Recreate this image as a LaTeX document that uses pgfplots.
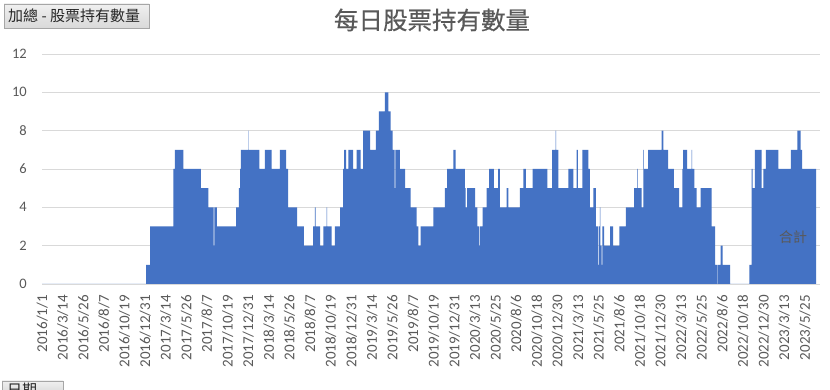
\documentclass[border=0pt]{standalone}
\usepackage{pgfplots}
\pgfplotsset{compat=1.18}
\usepackage{fontspec}
\setmainfont{Carlito}
\newfontfamily\cjk{Noto Sans CJK TC}
\newfontfamily\cjktitle[FakeBold=0.5]{Noto Sans CJK TC}
\definecolor{barblue}{HTML}{4472C4}
\definecolor{gridgray}{HTML}{D9D9D9}
\definecolor{labelgray}{HTML}{595959}
\definecolor{btnborder}{HTML}{A6A6A6}
\newcommand\xlabfont{\fontsize{15}{15}\selectfont}
\newcommand\ylabfont{\fontsize{14.5}{14.5}\selectfont}
\begin{document}
\begin{tikzpicture}
\path[use as bounding box] (0,0) rectangle (830pt,390pt);
\clip (0,0) rectangle (830pt,390pt);
\fill[white] (0,0) rectangle (830pt,390pt);
% top-left field button
\draw[btnborder, top color=gray!12, bottom color=gray!30] (4pt,362pt) rectangle (149pt,386pt);
\node[anchor=west, inner sep=0pt, text=black!85] at (8pt,374pt) {\cjk\fontsize{15}{15}\selectfont 加總 - 股票持有數量};
% title
\node[inner sep=0pt, text=labelgray] at (432pt,370pt) {\cjktitle\fontsize{24.5}{24.5}\selectfont 每日股票持有數量};
\begin{axis}[
  at={(42pt,106pt)}, anchor=south west,
  width=778pt, height=230pt, scale only axis,
  xmin=-0.5, xmax=2754.5, ymin=0, ymax=12,
  /pgf/number format/assume math mode=true,
  ytick={0,2,...,12},
  xtick={0,73,...,2701},
  xticklabels={2016/1/1,2016/3/14,2016/5/26,2016/8/7,2016/10/19,2016/12/31,2017/3/14,2017/5/26,2017/8/7,2017/10/19,2017/12/31,2018/3/14,2018/5/26,2018/8/7,2018/10/19,2018/12/31,2019/3/14,2019/5/26,2019/8/7,2019/10/19,2019/12/31,2020/3/13,2020/5/25,2020/8/6,2020/10/18,2020/12/30,2021/3/13,2021/5/25,2021/8/6,2021/10/18,2021/12/30,2022/3/13,2022/5/25,2022/8/6,2022/10/18,2022/12/30,2023/3/13,2023/5/25},
  axis x line*=bottom, axis y line*=left,
  x axis line style={draw=gridgray, line width=0.75pt},
  y axis line style={draw=none},
  major tick length=0pt,
  ymajorgrids, major grid style={draw=gridgray, line width=0.75pt},
  xticklabel style={rotate=90, anchor=east, inner sep=0pt, font=\xlabfont, text=labelgray},
  yticklabel style={anchor=east, inner sep=0pt, font=\ylabfont, text=labelgray},
  xticklabel shift=11pt,
  yticklabel shift=15pt,
  clip=true,
]
\addplot[const plot, fill=barblue, draw=none] table[x=d, y=v] {
d v
0 0
368 1
382 3
465 6
470 7
500 6
562 5
589 4
607 2
610 4
619 3
687 4
697 5
701 6
704 7
730 8
731 7
769 6
789 7
813 6
842 7
864 6
871 4
903 3
927 2
960 3
966 4
968 3
984 2
996 3
1007 4
1009 3
1025 2
1037 3
1055 4
1066 6
1069 7
1076 6
1084 7
1101 6
1114 7
1128 6
1137 8
1161 7
1182 8
1192 9
1214 10
1226 9
1234 8
1241 7
1248 5
1251 7
1267 6
1285 5
1305 4
1326 3
1332 2
1340 3
1385 4
1426 5
1434 6
1456 7
1464 6
1497 5
1500 4
1505 5
1533 4
1541 3
1548 2
1551 3
1560 4
1574 5
1583 6
1600 5
1615 6
1621 4
1645 5
1651 4
1692 5
1704 6
1713 5
1737 6
1789 5
1806 7
1818 8
1820 7
1828 5
1863 6
1881 5
1893 7
1897 5
1913 7
1934 6
1940 4
1952 5
1961 3
1969 1
1971 3
1975 4
1977 2
1981 1
1984 3
1990 2
2011 3
2022 2
2044 3
2067 4
2096 5
2107 6
2109 5
2123 4
2129 7
2131 6
2146 7
2194 8
2200 7
2217 6
2237 5
2256 4
2267 6
2270 7
2284 6
2300 7
2302 6
2310 5
2318 4
2332 5
2371 3
2383 1
2392 0
2394 1
2403 2
2410 1
2436 0
2504 1
2512 6
2516 5
2524 7
2548 5
2554 6
2563 7
2607 6
2651 7
2674 8
2686 7
2691 6
2741 0
} \closedcycle;
\end{axis}
\node[inner sep=0pt, text=labelgray] at (793pt,153pt) {\cjk\fontsize{14}{14}\selectfont 合計};
% bottom-left field button (cut off)
\draw[btnborder, top color=gray!12, bottom color=gray!30] (2pt,-4pt) rectangle (63pt,9pt);
\node[anchor=north west, inner sep=0pt, text=black!85] at (7pt,7pt) {\cjk\fontsize{15}{15}\selectfont 日期};
\end{tikzpicture}
\end{document}
